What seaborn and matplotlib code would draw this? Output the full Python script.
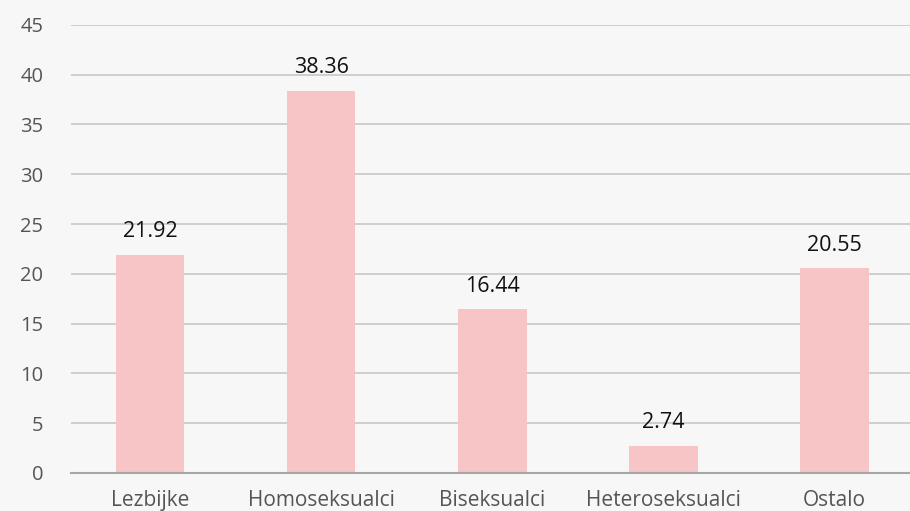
import matplotlib
matplotlib.use("Agg")
import matplotlib.pyplot as plt
import seaborn as sns
import pandas as pd

categories = ["Lezbijke", "Homoseksualci", "Biseksualci", "Heteroseksualci", "Ostalo"]
values = [21.92, 38.36, 16.44, 2.74, 20.55]
y_ticks = [0, 5, 10, 15, 20, 25, 30, 35, 40, 45]

df = pd.DataFrame({"kategorija": categories, "postotak": values})

sns.set_theme(style="white")
plt.rcParams["font.family"] = ["Open Sans", "DejaVu Sans"]

bg = "#f7f7f7"
fig = plt.figure(figsize=(9.1, 5.11), dpi=100, facecolor=bg)
ax = fig.add_axes([0.078, 0.0744, 0.925, 0.877])
ax.set_facecolor(bg)

sns.barplot(data=df, x="kategorija", y="postotak", color="#f7c5c5",
            saturation=1, width=0.4, linewidth=0, ax=ax, zorder=3)

for p, v in zip(ax.patches, values):
    ax.annotate(f"{v:.2f}", (p.get_x() + p.get_width() / 2, p.get_height()),
                xytext=(0, 9), textcoords="offset points",
                ha="center", va="bottom", fontsize=15.5, color="#111111", zorder=4)

ax.set_ylim(0, 45)
ax.set_xlim(-0.463, 4.457)
ax.set_yticks(y_ticks)
ax.yaxis.grid(True, color="#c4c4c4", linewidth=1.1, zorder=0)
ax.set_axisbelow(True)
for s in ["top", "right", "left"]:
    ax.spines[s].set_visible(False)
ax.spines["bottom"].set_color("#a6a6a6")
ax.spines["bottom"].set_linewidth(1.5)
ax.spines["bottom"].set_zorder(5)

ax.tick_params(axis="y", length=0, pad=20, labelsize=14.5, labelcolor="#555555")
ax.tick_params(axis="x", length=0, pad=12, labelsize=15, labelcolor="#555555")
ax.set_xlabel("")
ax.set_ylabel("")

fig.savefig("out.png", dpi=100, facecolor=bg)
